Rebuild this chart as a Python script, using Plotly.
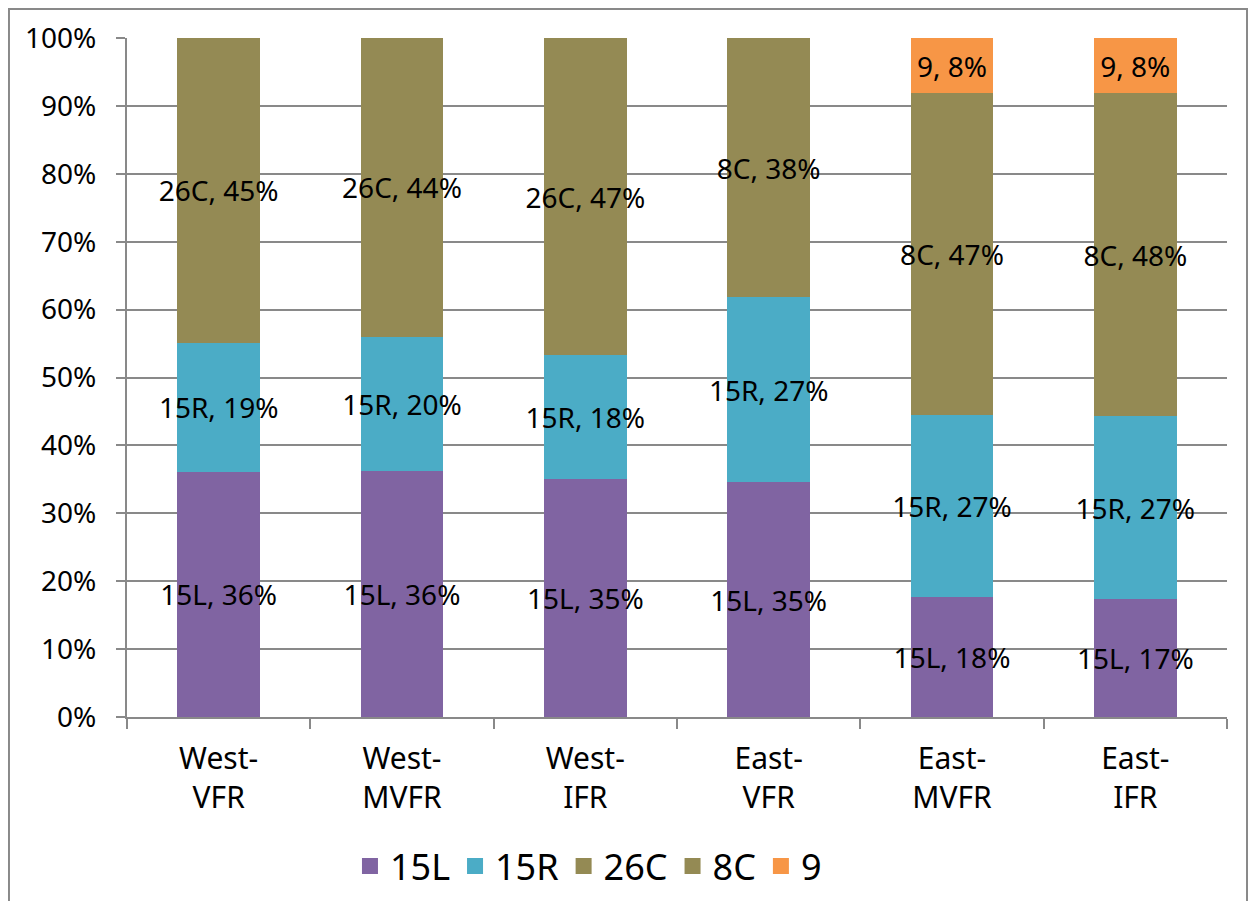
import plotly.graph_objects as go

categories = ["West-<br>VFR", "West-<br>MVFR", "West-<br>IFR", "East-<br>VFR", "East-<br>MVFR", "East-<br>IFR"]
series_names = ["15L", "15R", "26C", "8C", "9"]
v_15L = [36.1, 36.2, 35.1, 34.6, 17.7, 17.4]
v_15R = [19.0, 19.8, 18.2, 27.2, 26.8, 26.9]
v_26C = [44.9, 44.0, 46.7, None, None, None]
v_8C = [None, None, None, 38.2, 47.4, 47.6]
v_9 = [None, None, None, None, 8.1, 8.1]
colors = ["#8064A2", "#4BACC6", "#948A54", "#948A54", "#F79646"]

values = [v_15L, v_15R, v_26C, v_8C, v_9]
FONT = "Noto Sans"

fig = go.Figure()
for name, vals, col in zip(series_names, values, colors):
    fig.add_trace(go.Bar(
        x=categories, y=vals, name=name, marker_color=col, marker_line_width=0,
        text=[f"{name}, {v:.0f}%" if v is not None else "" for v in vals],
        textposition="inside", insidetextanchor="middle", textangle=0,
        constraintext="none", textfont=dict(family=FONT, size=28, color="black"),
        showlegend=False, hoverinfo="skip",
    ))
    fig.add_trace(go.Scatter(
        x=[None], y=[None], mode="markers", name=name,
        marker=dict(symbol="square", size=21, color=col),
    ))

fig.update_layout(
    width=1240, height=893,
    barmode="stack", bargap=0.55,
    plot_bgcolor="white", paper_bgcolor="white",
    margin=dict(l=119, r=21, t=30, b=184),
    font=dict(family=FONT, size=28, color="black"),
    legend=dict(orientation="h", traceorder="normal", xref="paper", x=0.2027, xanchor="left",
                yref="container", y=0.039, yanchor="middle",
                font=dict(family=FONT, size=36), itemwidth=30, tracegroupgap=0),
    shapes=[dict(type="rect", xref="paper", yref="paper", x0=-0.1073, x1=1.0182,
                 y0=-0.28, y1=1.0427, line=dict(color="#898989", width=2), fillcolor="rgba(0,0,0,0)")],
)
fig.update_xaxes(type="category", showline=True, linecolor="#898989", linewidth=2, automargin=False,
                 ticks="outside", tickson="boundaries", ticklen=10, tickcolor="#898989", tickwidth=2,
                 showgrid=False, ticklabelstandoff=14, tickfont=dict(family=FONT, size=30))
fig.update_yaxes(range=[0, 100], dtick=10, ticksuffix="%", showline=True, linecolor="#898989", linewidth=2,
                 automargin=False,
                 ticks="outside", ticklen=9, tickcolor="#898989", tickwidth=2,
                 showgrid=True, gridcolor="#898989", gridwidth=2, zeroline=False,
                 ticklabelstandoff=14, tickfont=dict(family=FONT, size=28))

fig.write_html("out.html")
